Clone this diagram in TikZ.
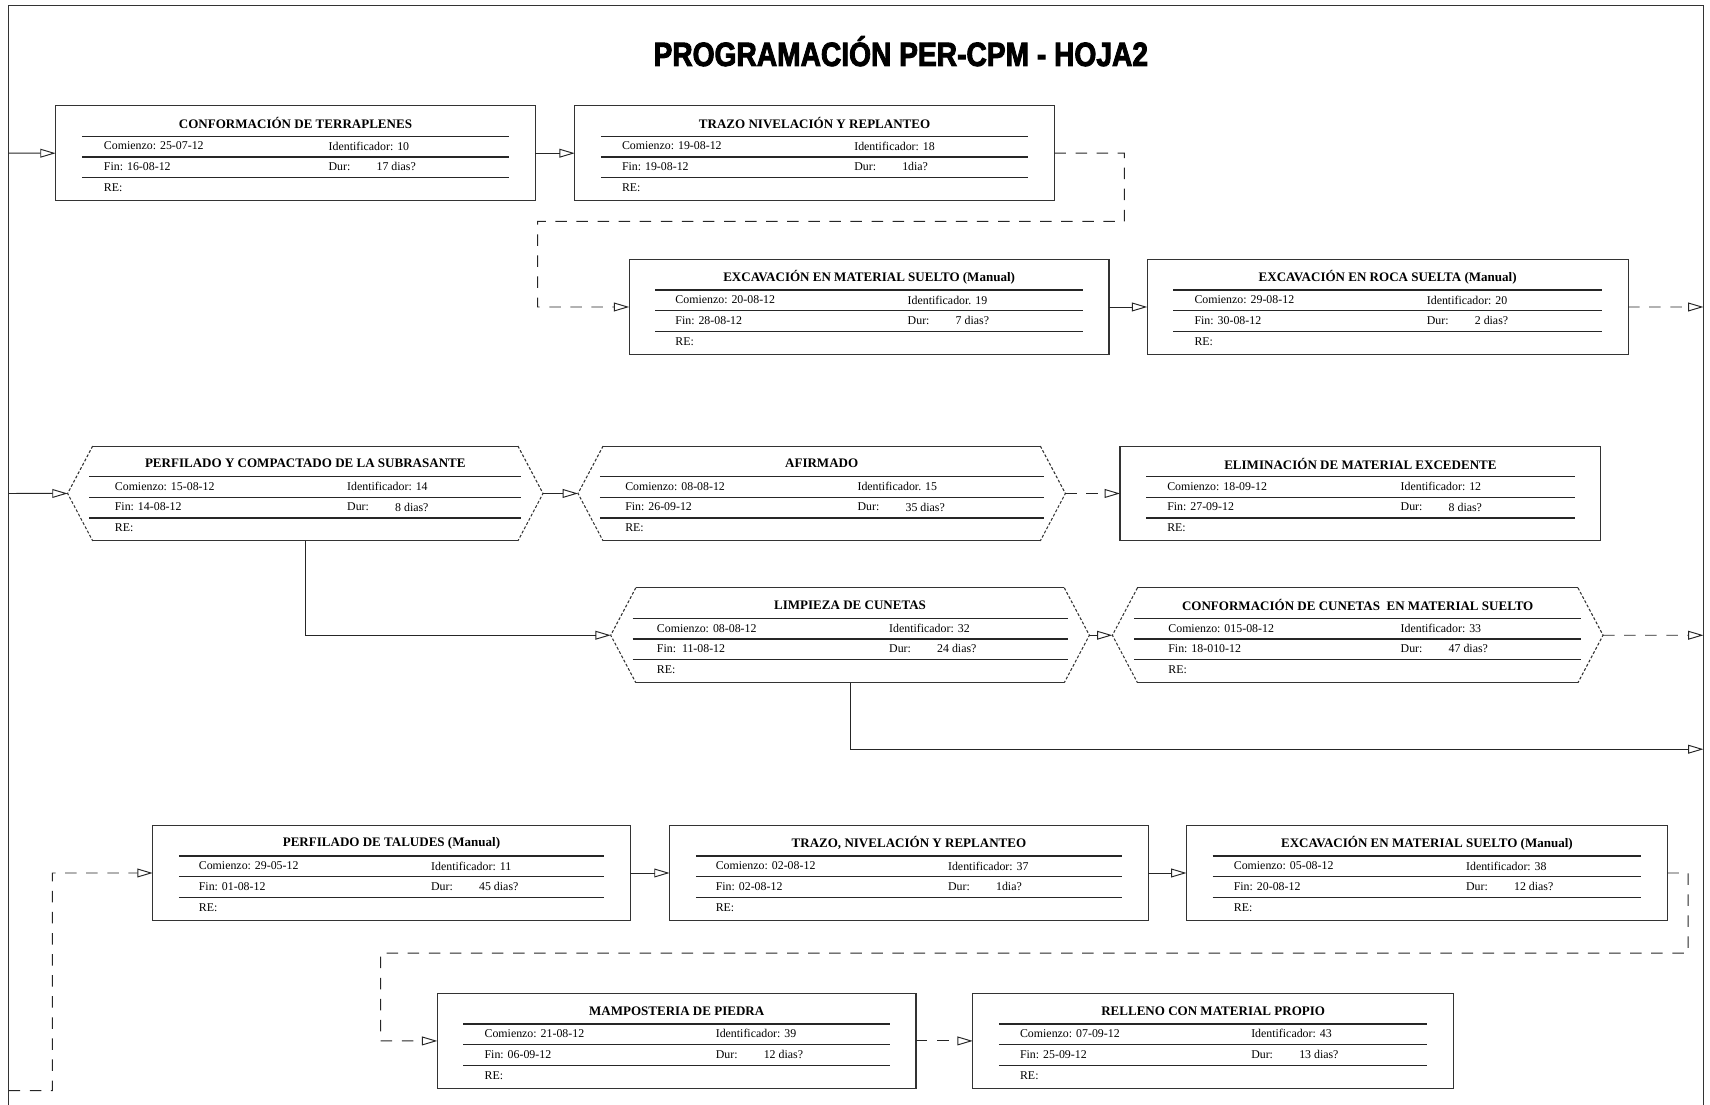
\documentclass[tikz,border=0pt]{standalone}
\usepackage{graphicx}
\usepackage{fontspec}
\setmainfont{Liberation Serif}
\newfontfamily\headfont[FakeBold=3]{Liberation Sans}
\usetikzlibrary{arrows.meta,calc}

\tikzset{
  x=0.02cm, y=-0.02cm,
  frameline/.style={line width=0.8pt, draw=black!80},
  border/.style={draw=black!80, line width=0.55pt},
  rule/.style={draw=black!85, line width=0.7pt},
  rectnode/.style={border, rectangle, inner sep=0pt, outer sep=0pt,
    minimum height=1.74cm, anchor=north west},
  hexnode/.style={rectangle, inner sep=0pt, outer sep=0pt,
    minimum height=1.74cm, anchor=north west},
  titletext/.style={inner sep=0pt, font=\bfseries\fontsize{6.8}{8}\selectfont},
  celltext/.style={inner sep=0pt, anchor=west, font=\fontsize{6.2}{7}\selectfont},
  link/.style={line width=0.5pt, draw=black!85},
  arr/.style={link, -{Triangle[open,length=8pt,width=4.6pt]}},
  dsh/.style={dash pattern=on 6pt off 5pt},
}

% hexagonal outline around a hexnode
\newcommand\hexoutline[1]{%
  \draw[border] ($(#1.north west)+(23,0)$) -- ($(#1.north east)+(-23,0)$);
  \draw[border] ($(#1.south west)+(23,0)$) -- ($(#1.south east)+(-23,0)$);
  \draw[border, dash pattern=on 1.5pt off 1pt]
    ($(#1.north west)+(23,0)$) -- (#1.west) -- ($(#1.south west)+(23,0)$);
  \draw[border, dash pattern=on 1.5pt off 1pt]
    ($(#1.north east)+(-23,0)$) -- (#1.east) -- ($(#1.south east)+(-23,0)$);
}

% fields of a task: node, rule inset, column 1, column 2, title, start, id, end, duration
\newcommand\taskinfo[9]{%
  \node[titletext] (#1-title) at ($(#1.north)+(0,16)$) {#5};
  \foreach \yy in {28,47,66}
    \draw[rule] ($(#1.north west)+(#2,\yy)$) -- ($(#1.north east)+(-#2,\yy)$);
  \node[celltext] (#1-start) at ($(#1.north west)+(#3,37)$) {Comienzo: #6};
  \node[celltext] (#1-id)    at ($(#1.north west)+(#4,37)$) {#7};
  \node[celltext] (#1-end)   at ($(#1.north west)+(#3,56)$) {#8};
  \node[celltext] (#1-durl)  at ($(#1.north west)+(#4,56)$) {Dur:};
  \node[celltext] (#1-dur)   at ($(#1.north west)+(#4+44,56)$) {#9};
  \node[celltext] (#1-re)    at ($(#1.north west)+(#3,75)$) {RE:};
}

\begin{document}
\begin{tikzpicture}
\useasboundingbox (0,0) rectangle (1568,1013);

% sheet frame
\draw[frameline] (8,1013) -- (8,5) -- (1562,5) -- (1562,1013);

% heading
\node (heading) at (826,47)
  {\headfont\bfseries\fontsize{17.5}{20}\selectfont\scalebox{0.84}[1]{PROGRAMACIÓN PER-CPM - HOJA2}};

% ---------- tasks ----------
\node[rectnode, minimum width=8.80cm] (A) at (51,97) {};
\taskinfo{A}{24}{44}{250}{CONFORMACIÓN DE TERRAPLENES}{25-07-12}{Identificador: 10}{Fin: 16-08-12}{17 dias?}

\node[rectnode, minimum width=8.80cm] (B) at (527,97) {};
\taskinfo{B}{24}{43}{256}{TRAZO NIVELACIÓN Y REPLANTEO}{19-08-12}{Identificador: 18}{Fin: 19-08-12}{1dia?}

\node[rectnode, minimum width=8.80cm] (C) at (577,238) {};
\taskinfo{C}{24}{42}{255}{EXCAVACIÓN EN MATERIAL SUELTO (Manual)}{20-08-12}{Identificador. 19}{Fin: 28-08-12}{7 dias?}

\node[rectnode, minimum width=8.82cm] (D) at (1052,238) {};
\taskinfo{D}{24}{43}{256}{EXCAVACIÓN EN ROCA SUELTA (Manual)}{29-08-12}{Identificador: 20}{Fin: 30-08-12}{2 dias?}

\node[hexnode, minimum width=8.72cm] (E) at (62,409) {};
\hexoutline{E}
\taskinfo{E}{20}{43}{256}{PERFILADO Y COMPACTADO DE LA SUBRASANTE}{15-08-12}{Identificador: 14}{Fin: 14-08-12}{8 dias?}

\node[hexnode, minimum width=8.94cm] (F) at (530,409) {};
\hexoutline{F}
\taskinfo{F}{20}{43}{256}{AFIRMADO}{08-08-12}{Identificador. 15}{Fin: 26-09-12}{35 dias?}

\node[rectnode, minimum width=8.82cm] (G) at (1027,409) {};
\taskinfo{G}{24}{43}{257}{ELIMINACIÓN DE MATERIAL EXCEDENTE}{18-09-12}{Identificador: 12}{Fin: 27-09-12}{8 dias?}

\node[hexnode, minimum width=8.78cm] (H) at (560,539) {};
\hexoutline{H}
\taskinfo{H}{20}{42}{255}{LIMPIEZA DE CUNETAS}{08-08-12}{Identificador: 32}{Fin:\ \ 11-08-12}{24 dias?}

\node[hexnode, minimum width=9.00cm] (I) at (1020,539) {};
\hexoutline{I}
\taskinfo{I}{20}{51}{264}{CONFORMACIÓN DE CUNETAS\ \ EN MATERIAL SUELTO}{015-08-12}{Identificador: 33}{Fin: 18-010-12}{47 dias?}

\node[rectnode, minimum width=8.76cm] (J) at (140,757) {};
\taskinfo{J}{24}{42}{255}{PERFILADO DE TALUDES (Manual)}{29-05-12}{Identificador: 11}{Fin: 01-08-12}{45 dias?}

\node[rectnode, minimum width=8.78cm] (K) at (614,757) {};
\taskinfo{K}{24}{42}{255}{TRAZO, NIVELACIÓN Y REPLANTEO}{02-08-12}{Identificador: 37}{Fin: 02-08-12}{1dia?}

\node[rectnode, minimum width=8.82cm] (L) at (1088,757) {};
\taskinfo{L}{24}{43}{256}{EXCAVACIÓN EN MATERIAL SUELTO (Manual)}{05-08-12}{Identificador: 38}{Fin: 20-08-12}{12 dias?}

\node[rectnode, minimum width=8.78cm] (M) at (401,911) {};
\taskinfo{M}{24}{43}{255}{MAMPOSTERIA DE PIEDRA}{21-08-12}{Identificador: 39}{Fin: 06-09-12}{12 dias?}

\node[rectnode, minimum width=8.82cm] (N) at (892,911) {};
\taskinfo{N}{24}{43}{255}{RELLENO CON MATERIAL PROPIO}{07-09-12}{Identificador: 43}{Fin: 25-09-12}{13 dias?}

% ---------- free ends on the sheet frame ----------
\coordinate (inA) at (8,140.5);
\coordinate (inE) at (8,452.5);
\coordinate (inJ) at (8,1000);
\coordinate (outD) at (1562,281.5);
\coordinate (outI) at (1562,582.5);
\coordinate (outH) at (1562,687);

% ---------- connectors ----------
\draw[arr] (inA) -- (A.west);
\draw[arr] (A.east) -- (B.west);
\draw[arr, dsh] (B.east) -- (1031,140.5) -- (1031,203) -- (493,203) -- (493,281.5) -- (C.west);
\draw[arr] (C.east) -- (D.west);
\draw[arr, dsh] (D.east) -- (outD);

\draw[arr] (inE) -- (E.west);
\draw[arr] (E.east) -- (F.west);
\draw[arr, dsh] (F.east) -- (G.west);
\draw[arr] (E.south) |- (H.west);
\draw[arr] (H.east) -- (I.west);
\draw[arr, dsh] (I.east) -- (outI);
\draw[arr] (H.south) |- (outH);

\draw[arr, dsh] (inJ) -- (48,1000) -- (48,800.5) -- (J.west);
\draw[arr] (J.east) -- (K.west);
\draw[arr] (K.east) -- (L.west);
\draw[arr, dsh] (L.east) -- (1548,800.5) -- (1548,874) -- (349,874) -- (349,954.5) -- (M.west);
\draw[arr, dsh] (M.east) -- (N.west);
\end{tikzpicture}
\end{document}
